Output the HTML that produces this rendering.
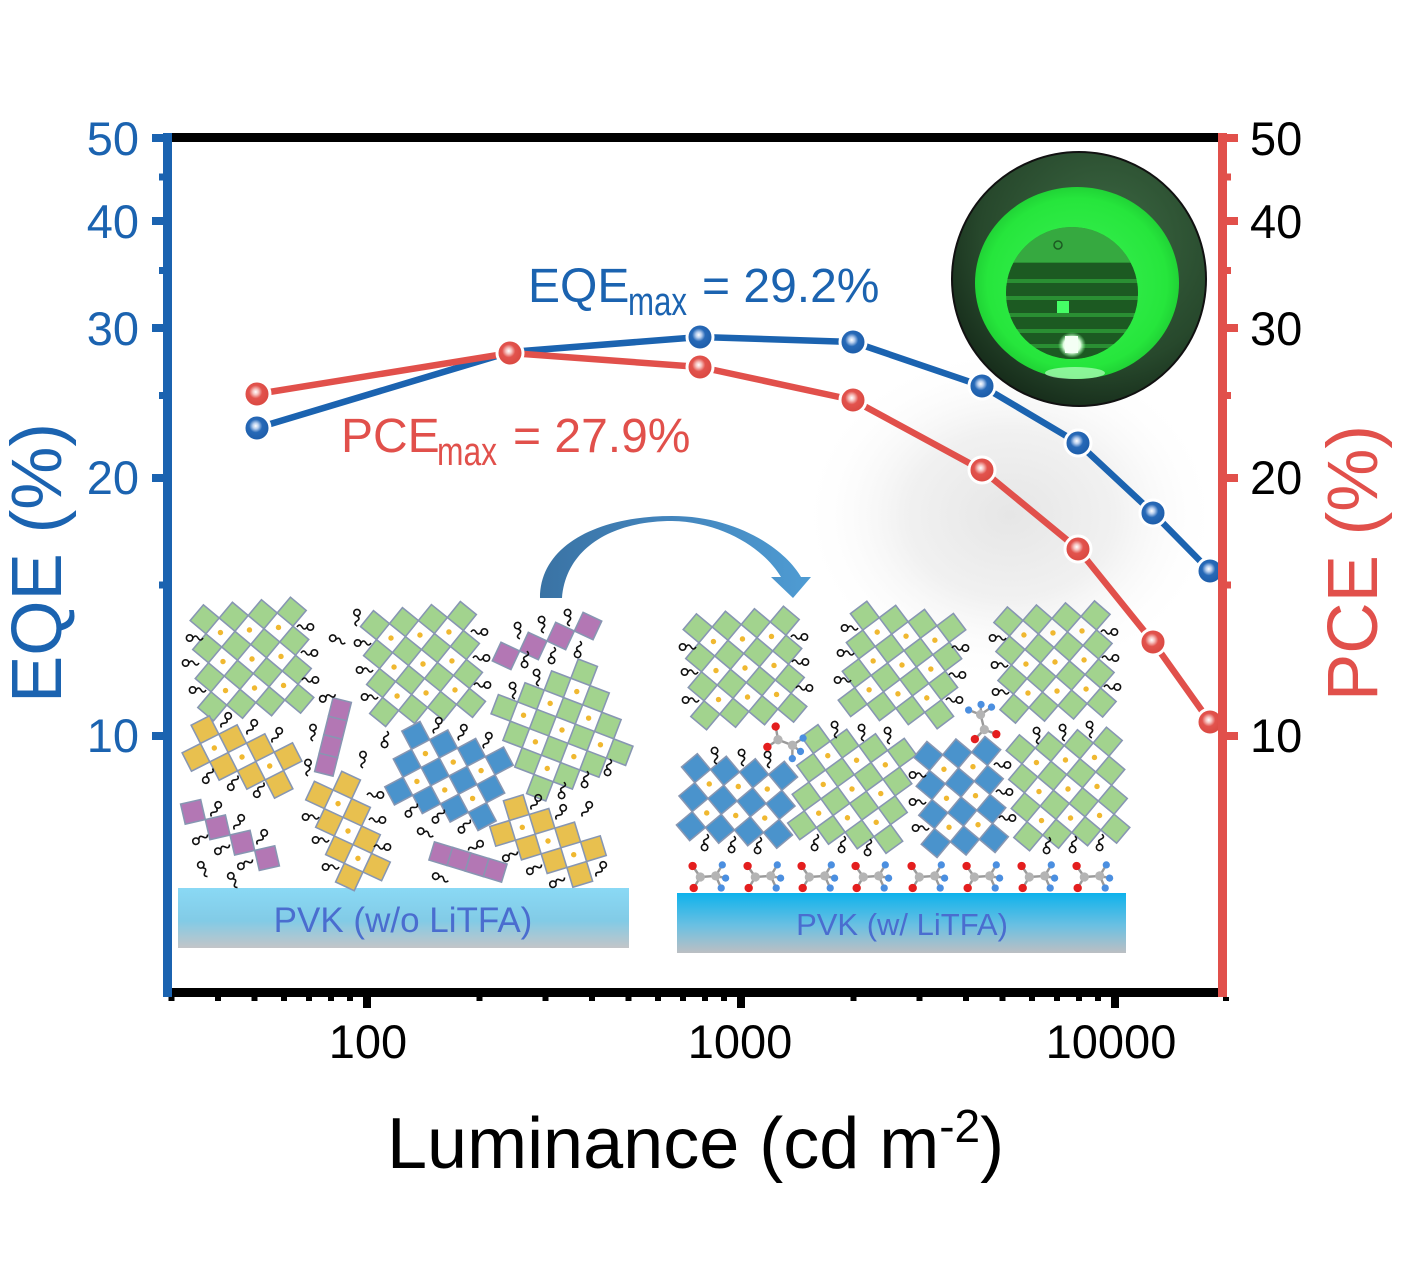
<!DOCTYPE html>
<html><head><meta charset="utf-8"><style>
html,body{margin:0;padding:0;background:#fff;}
svg{display:block;}
text{font-family:"Liberation Sans",Arial,sans-serif;}
</style></head><body>
<svg width="1408" height="1278" viewBox="0 0 1408 1278" xmlns="http://www.w3.org/2000/svg" xmlns:xlink="http://www.w3.org/1999/xlink">
<defs>
  <radialGradient id="mb" cx="0.45" cy="0.42" r="0.6">
    <stop offset="0" stop-color="#ffffff"/><stop offset="0.18" stop-color="#b9cfee"/><stop offset="0.42" stop-color="#2769b7"/><stop offset="1" stop-color="#1a5aa6"/>
  </radialGradient>
  <radialGradient id="mr" cx="0.45" cy="0.42" r="0.6">
    <stop offset="0" stop-color="#ffffff"/><stop offset="0.18" stop-color="#f6c4c1"/><stop offset="0.42" stop-color="#e2534d"/><stop offset="1" stop-color="#d8463f"/>
  </radialGradient>
  <radialGradient id="haze" cx="0.5" cy="0.5" r="0.5">
    <stop offset="0" stop-color="#e6e6e6"/><stop offset="0.5" stop-color="#f1f1f1"/><stop offset="1" stop-color="#ffffff" stop-opacity="0"/>
  </radialGradient>
  <radialGradient id="outer" cx="0.6" cy="0.35" r="0.7">
    <stop offset="0" stop-color="#3d6a44"/><stop offset="0.7" stop-color="#27482c"/><stop offset="1" stop-color="#152a19"/>
  </radialGradient>
  <radialGradient id="grn" cx="0.5" cy="0.5" r="0.55">
    <stop offset="0" stop-color="#3cf055"/><stop offset="0.8" stop-color="#26e63c"/><stop offset="1" stop-color="#1cc431"/>
  </radialGradient>
  <radialGradient id="spot" cx="0.5" cy="0.5" r="0.5">
    <stop offset="0" stop-color="#ffffff"/><stop offset="0.6" stop-color="#e8ffe8"/><stop offset="1" stop-color="#7dff8c" stop-opacity="0"/>
  </radialGradient>
  <linearGradient id="arr" x1="0" y1="0" x2="1" y2="0">
    <stop offset="0" stop-color="#3a73a4"/><stop offset="0.45" stop-color="#4283bb"/><stop offset="1" stop-color="#4f9cd3"/>
  </linearGradient>
  <linearGradient id="pvk1" x1="0" y1="0" x2="0" y2="1">
    <stop offset="0" stop-color="#8ad9f5"/><stop offset="0.55" stop-color="#82cbe6"/><stop offset="1" stop-color="#c3c5c8"/>
  </linearGradient>
  <linearGradient id="pvk2" x1="0" y1="0" x2="0" y2="1">
    <stop offset="0" stop-color="#0eb2ec"/><stop offset="0.55" stop-color="#6cc0e2"/><stop offset="1" stop-color="#bcbfc3"/>
  </linearGradient>
  <clipPath id="disc"><circle cx="1072" cy="293" r="66"/></clipPath>

  <polygon id="dm" points="0,-14 14,0 0,14 -14,0" stroke="#8796b2" stroke-width="1.5"/>
  <circle id="dt" r="2.6" fill="#f0b830"/>
  <g id="c44">
    <use xlink:href="#dm" x="-42" y="-42"/><use xlink:href="#dm" x="-14" y="-42"/><use xlink:href="#dm" x="14" y="-42"/><use xlink:href="#dm" x="42" y="-42"/>
    <use xlink:href="#dm" x="-42" y="-14"/><use xlink:href="#dm" x="-14" y="-14"/><use xlink:href="#dm" x="14" y="-14"/><use xlink:href="#dm" x="42" y="-14"/>
    <use xlink:href="#dm" x="-42" y="14"/><use xlink:href="#dm" x="-14" y="14"/><use xlink:href="#dm" x="14" y="14"/><use xlink:href="#dm" x="42" y="14"/>
    <use xlink:href="#dm" x="-42" y="42"/><use xlink:href="#dm" x="-14" y="42"/><use xlink:href="#dm" x="14" y="42"/><use xlink:href="#dm" x="42" y="42"/>
    <use xlink:href="#dt" x="-28" y="-28"/><use xlink:href="#dt" x="0" y="-28"/><use xlink:href="#dt" x="28" y="-28"/>
    <use xlink:href="#dt" x="-28" y="0"/><use xlink:href="#dt" x="0" y="0"/><use xlink:href="#dt" x="28" y="0"/>
    <use xlink:href="#dt" x="-28" y="28"/><use xlink:href="#dt" x="0" y="28"/><use xlink:href="#dt" x="28" y="28"/>
  </g>
  <g id="c43">
    <use xlink:href="#dm" x="-42" y="-28"/><use xlink:href="#dm" x="-14" y="-28"/><use xlink:href="#dm" x="14" y="-28"/><use xlink:href="#dm" x="42" y="-28"/>
    <use xlink:href="#dm" x="-42" y="0"/><use xlink:href="#dm" x="-14" y="0"/><use xlink:href="#dm" x="14" y="0"/><use xlink:href="#dm" x="42" y="0"/>
    <use xlink:href="#dm" x="-42" y="28"/><use xlink:href="#dm" x="-14" y="28"/><use xlink:href="#dm" x="14" y="28"/><use xlink:href="#dm" x="42" y="28"/>
    <use xlink:href="#dt" x="-28" y="-14"/><use xlink:href="#dt" x="0" y="-14"/><use xlink:href="#dt" x="28" y="-14"/>
    <use xlink:href="#dt" x="-28" y="14"/><use xlink:href="#dt" x="0" y="14"/><use xlink:href="#dt" x="28" y="14"/>
  </g>
  <g id="c42">
    <use xlink:href="#dm" x="-42" y="-14"/><use xlink:href="#dm" x="-14" y="-14"/><use xlink:href="#dm" x="14" y="-14"/><use xlink:href="#dm" x="42" y="-14"/>
    <use xlink:href="#dm" x="-42" y="14"/><use xlink:href="#dm" x="-14" y="14"/><use xlink:href="#dm" x="14" y="14"/><use xlink:href="#dm" x="42" y="14"/>
    <use xlink:href="#dt" x="-28" y="0"/><use xlink:href="#dt" x="0" y="0"/><use xlink:href="#dt" x="28" y="0"/>
  </g>
  <g id="c41">
    <use xlink:href="#dm" x="-42" y="0"/><use xlink:href="#dm" x="-14" y="0"/><use xlink:href="#dm" x="14" y="0"/><use xlink:href="#dm" x="42" y="0"/>
  </g>
  <g id="bar" stroke="#8796b2" stroke-width="1.5">
    <rect x="-38" y="-9.5" width="19" height="19"/><rect x="-19" y="-9.5" width="19" height="19"/><rect x="0" y="-9.5" width="19" height="19"/><rect x="19" y="-9.5" width="19" height="19"/>
  </g>
  <g id="lg" fill="none" stroke="#111" stroke-width="1.6">
    <path d="M-11,0 q2.5,-4 5,0 t5,0"/><circle cx="2.4" cy="0" r="3.2"/>
  </g>
  <g id="tfa">
    <g stroke="#9a9a9a" stroke-width="2.2">
      <line x1="-7" y1="0" x2="-14" y2="-10"/><line x1="-7" y1="0" x2="-13" y2="10"/><line x1="-7" y1="0" x2="7" y2="-1"/>
      <line x1="7" y1="-1" x2="13" y2="-11"/><line x1="7" y1="-1" x2="16" y2="1"/><line x1="7" y1="-1" x2="12" y2="10"/>
    </g>
    <circle cx="-14" cy="-10" r="3.8" fill="#e41e1e"/><circle cx="-13" cy="10" r="3.8" fill="#e41e1e"/>
    <circle cx="-7" cy="0" r="4.2" fill="#b4b4b4"/><circle cx="7" cy="-1" r="4.2" fill="#b4b4b4"/>
    <circle cx="13" cy="-11" r="3.3" fill="#4b8fe0"/><circle cx="16" cy="1" r="3.3" fill="#4b8fe0"/><circle cx="12" cy="10" r="3.3" fill="#4b8fe0"/>
  </g>
</defs>

<rect x="0" y="0" width="1408" height="1278" fill="#fff"/>

<!-- haze -->
<ellipse cx="1010" cy="515" rx="210" ry="170" fill="url(#haze)"/>

<!-- Left illustration -->
<rect x="178" y="888" width="451" height="60" fill="url(#pvk1)"/>
<text x="403" y="932" font-size="35" fill="#4a6dcf" text-anchor="middle">PVK (w/o LiTFA)</text>

<g fill="#a2d38e">
  <use xlink:href="#c44" transform="translate(252,659) rotate(-5) scale(1.04)"/>
  <use xlink:href="#c44" transform="translate(423,664) rotate(-6) scale(1.04)"/>
  <use xlink:href="#c44" transform="translate(562,730) rotate(-24) scale(1.04)"/>
</g>
<g fill="#b377b4">
  <use xlink:href="#c41" transform="translate(547,641) rotate(-20) scale(1.04)"/>
  <use xlink:href="#c41" transform="translate(230,835) rotate(32) scale(1.04)"/>
  <use xlink:href="#bar" transform="translate(333,737) rotate(104)"/>
  <use xlink:href="#bar" transform="translate(468,862) rotate(17)"/>
</g>
<g fill="#e8c04f">
  <use xlink:href="#c42" transform="translate(242,757) rotate(18) scale(1.04)"/>
  <use xlink:href="#c42" transform="translate(348,831) rotate(70) scale(1.04)"/>
  <use xlink:href="#c42" transform="translate(548,841) rotate(28) scale(1.04)"/>
</g>
<g fill="#4a93cc">
  <use xlink:href="#c43" transform="translate(449,776) rotate(17) scale(1.04)"/>
</g>

<!-- left ligands -->
<g>
  <use xlink:href="#lg" transform="translate(192,638) rotate(180)"/>
  <use xlink:href="#lg" transform="translate(308,627)"/>
  <use xlink:href="#lg" transform="translate(188,663) rotate(180)"/>
  <use xlink:href="#lg" transform="translate(312,653)"/>
  <use xlink:href="#lg" transform="translate(195,690) rotate(180)"/>
  <use xlink:href="#lg" transform="translate(313,680)"/>
  <use xlink:href="#lg" transform="translate(335,639) rotate(200)"/>
  <use xlink:href="#lg" transform="translate(357,615) rotate(-90)"/>
  <use xlink:href="#lg" transform="translate(360,643) rotate(180)"/>
  <use xlink:href="#lg" transform="translate(362,670) rotate(180)"/>
  <use xlink:href="#lg" transform="translate(367,697) rotate(180)"/>
  <use xlink:href="#lg" transform="translate(325,698) rotate(160)"/>
  <use xlink:href="#lg" transform="translate(482,632)"/>
  <use xlink:href="#lg" transform="translate(484,658)"/>
  <use xlink:href="#lg" transform="translate(485,685)"/>
  <use xlink:href="#lg" transform="translate(518,628) rotate(-100)"/>
  <use xlink:href="#lg" transform="translate(542,622) rotate(-100)"/>
  <use xlink:href="#lg" transform="translate(568,615) rotate(-100)"/>
  <use xlink:href="#lg" transform="translate(525,662) rotate(100)"/>
  <use xlink:href="#lg" transform="translate(552,658) rotate(100)"/>
  <use xlink:href="#lg" transform="translate(578,652) rotate(100)"/>
  <use xlink:href="#lg" transform="translate(537,675) rotate(-100)"/>
  <use xlink:href="#lg" transform="translate(513,688) rotate(-100)"/>
  <use xlink:href="#lg" transform="translate(227,718) rotate(-60)"/>
  <use xlink:href="#lg" transform="translate(253,725) rotate(-60)"/>
  <use xlink:href="#lg" transform="translate(278,733) rotate(-60)"/>
  <use xlink:href="#lg" transform="translate(313,730) rotate(-90)"/>
  <use xlink:href="#lg" transform="translate(308,765) rotate(-90)"/>
  <use xlink:href="#lg" transform="translate(363,757) rotate(-90)"/>
  <use xlink:href="#lg" transform="translate(385,742) rotate(100)"/>
  <use xlink:href="#lg" transform="translate(438,723) rotate(-70)"/>
  <use xlink:href="#lg" transform="translate(463,730) rotate(-70)"/>
  <use xlink:href="#lg" transform="translate(488,738) rotate(-70)"/>
  <use xlink:href="#lg" transform="translate(207,778) rotate(120)"/>
  <use xlink:href="#lg" transform="translate(232,785) rotate(120)"/>
  <use xlink:href="#lg" transform="translate(258,792) rotate(120)"/>
  <use xlink:href="#lg" transform="translate(608,770) rotate(100)"/>
  <use xlink:href="#lg" transform="translate(585,782) rotate(100)"/>
  <use xlink:href="#lg" transform="translate(562,793) rotate(100)"/>
  <use xlink:href="#lg" transform="translate(378,795)"/>
  <use xlink:href="#lg" transform="translate(380,820)"/>
  <use xlink:href="#lg" transform="translate(308,817) rotate(180)"/>
  <use xlink:href="#lg" transform="translate(318,840) rotate(180)"/>
  <use xlink:href="#lg" transform="translate(328,867) rotate(180)"/>
  <use xlink:href="#lg" transform="translate(385,847)"/>
  <use xlink:href="#lg" transform="translate(217,807) rotate(-60)"/>
  <use xlink:href="#lg" transform="translate(240,820) rotate(-60)"/>
  <use xlink:href="#lg" transform="translate(263,835) rotate(-60)"/>
  <use xlink:href="#lg" transform="translate(198,840) rotate(150)"/>
  <use xlink:href="#lg" transform="translate(220,850) rotate(150)"/>
  <use xlink:href="#lg" transform="translate(243,865) rotate(150)"/>
  <use xlink:href="#lg" transform="translate(202,867) rotate(-120)"/>
  <use xlink:href="#lg" transform="translate(232,878) rotate(-120)"/>
  <use xlink:href="#lg" transform="translate(410,812) rotate(130)"/>
  <use xlink:href="#lg" transform="translate(437,818) rotate(130)"/>
  <use xlink:href="#lg" transform="translate(463,828) rotate(130)"/>
  <use xlink:href="#lg" transform="translate(423,832) rotate(200)"/>
  <use xlink:href="#lg" transform="translate(478,845) rotate(-30)"/>
  <use xlink:href="#lg" transform="translate(438,877) rotate(200)"/>
  <use xlink:href="#lg" transform="translate(537,800) rotate(-60)"/>
  <use xlink:href="#lg" transform="translate(562,810) rotate(-60)"/>
  <use xlink:href="#lg" transform="translate(588,807) rotate(-60)"/>
  <use xlink:href="#lg" transform="translate(508,857) rotate(150)"/>
  <use xlink:href="#lg" transform="translate(532,870) rotate(150)"/>
  <use xlink:href="#lg" transform="translate(555,883) rotate(150)"/>
  <use xlink:href="#lg" transform="translate(602,867) rotate(-60)"/>
</g>

<!-- Arrow -->
<path d="M540,598 C540,545 598,516 672,516 C736,516 784,548 801,577 L811,577 L793,598 L771,577 L781,577 C765,550 724,522 672,521 C612,521 566,548 562,598 Z" fill="url(#arr)"/>

<!-- Right illustration -->
<rect x="677" y="893" width="449" height="60" fill="url(#pvk2)"/>
<text x="902" y="935" font-size="31" fill="#4a6dcf" text-anchor="middle">PVK (w/ LiTFA)</text>

<g fill="#a2d38e">
  <use xlink:href="#c44" transform="translate(745,668) rotate(-5) scale(1.04)"/>
  <use xlink:href="#c44" transform="translate(902,665) rotate(8) scale(1.04)"/>
  <use xlink:href="#c44" transform="translate(1055,662) rotate(-4) scale(1.04)"/>
  <use xlink:href="#c44" transform="translate(852,789) rotate(9) scale(1.04)"/>
  <use xlink:href="#c44" transform="translate(1068,789) rotate(-5) scale(1.04)"/>
</g>
<g fill="#4a93cc">
  <use xlink:href="#c43" transform="translate(737,801) rotate(5) scale(1.04)"/>
  <use xlink:href="#c43" transform="translate(961,797) rotate(85) scale(1.04)"/>
</g>

<g>
  <use xlink:href="#lg" transform="translate(685,647) rotate(180)"/>
  <use xlink:href="#lg" transform="translate(687,672) rotate(180)"/>
  <use xlink:href="#lg" transform="translate(688,700) rotate(180)"/>
  <use xlink:href="#lg" transform="translate(802,637)"/>
  <use xlink:href="#lg" transform="translate(803,662)"/>
  <use xlink:href="#lg" transform="translate(807,688)"/>
  <use xlink:href="#lg" transform="translate(847,628) rotate(180)"/>
  <use xlink:href="#lg" transform="translate(843,653) rotate(180)"/>
  <use xlink:href="#lg" transform="translate(840,680) rotate(180)"/>
  <use xlink:href="#lg" transform="translate(963,648)"/>
  <use xlink:href="#lg" transform="translate(960,675)"/>
  <use xlink:href="#lg" transform="translate(957,700)"/>
  <use xlink:href="#lg" transform="translate(995,638) rotate(180)"/>
  <use xlink:href="#lg" transform="translate(997,665) rotate(180)"/>
  <use xlink:href="#lg" transform="translate(998,692) rotate(180)"/>
  <use xlink:href="#lg" transform="translate(1112,632)"/>
  <use xlink:href="#lg" transform="translate(1113,658)"/>
  <use xlink:href="#lg" transform="translate(1115,687)"/>
  <use xlink:href="#lg" transform="translate(715,753) rotate(-100)"/>
  <use xlink:href="#lg" transform="translate(742,755) rotate(-100)"/>
  <use xlink:href="#lg" transform="translate(768,757) rotate(-100)"/>
  <use xlink:href="#lg" transform="translate(835,727) rotate(-100)"/>
  <use xlink:href="#lg" transform="translate(862,730) rotate(-100)"/>
  <use xlink:href="#lg" transform="translate(888,733) rotate(-100)"/>
  <use xlink:href="#lg" transform="translate(1037,733) rotate(-100)"/>
  <use xlink:href="#lg" transform="translate(1063,730) rotate(-100)"/>
  <use xlink:href="#lg" transform="translate(1090,727) rotate(-100)"/>
  <use xlink:href="#lg" transform="translate(915,775) rotate(180)"/>
  <use xlink:href="#lg" transform="translate(915,802) rotate(180)"/>
  <use xlink:href="#lg" transform="translate(918,828) rotate(180)"/>
  <use xlink:href="#lg" transform="translate(1005,765)"/>
  <use xlink:href="#lg" transform="translate(1007,792)"/>
  <use xlink:href="#lg" transform="translate(1010,818)"/>
  <use xlink:href="#lg" transform="translate(705,845) rotate(100)"/>
  <use xlink:href="#lg" transform="translate(732,847) rotate(100)"/>
  <use xlink:href="#lg" transform="translate(758,848) rotate(100)"/>
  <use xlink:href="#lg" transform="translate(815,845) rotate(100)"/>
  <use xlink:href="#lg" transform="translate(842,847) rotate(100)"/>
  <use xlink:href="#lg" transform="translate(868,850) rotate(100)"/>
  <use xlink:href="#lg" transform="translate(1047,848) rotate(100)"/>
  <use xlink:href="#lg" transform="translate(1073,847) rotate(100)"/>
  <use xlink:href="#lg" transform="translate(1100,845) rotate(100)"/>
</g>

<!-- TFA molecules -->
<g>
  <use xlink:href="#tfa" transform="translate(708,877) scale(1.1)"/><use xlink:href="#tfa" transform="translate(763,877) scale(1.1)"/>
  <use xlink:href="#tfa" transform="translate(817,877) scale(1.1)"/><use xlink:href="#tfa" transform="translate(871,877) scale(1.1)"/>
  <use xlink:href="#tfa" transform="translate(927,877) scale(1.1)"/><use xlink:href="#tfa" transform="translate(982,877) scale(1.1)"/>
  <use xlink:href="#tfa" transform="translate(1037,877) scale(1.1)"/><use xlink:href="#tfa" transform="translate(1092,877) scale(1.1)"/>
  <use xlink:href="#tfa" transform="translate(785,743) rotate(25) scale(1.1)"/>
  <use xlink:href="#tfa" transform="translate(983,722) rotate(-100) scale(1.1)"/>
</g>

<!-- Device photo -->
<circle cx="1079" cy="279" r="127" fill="url(#outer)" stroke="#111" stroke-width="2"/>
<ellipse cx="1077" cy="283" rx="102" ry="96" fill="url(#grn)"/>
<g clip-path="url(#disc)">
  <rect x="1000" y="220" width="150" height="150" fill="#2a8f33"/>
  <rect x="1000" y="226" width="150" height="36" fill="#36a940"/>
  <rect x="1000" y="263" width="150" height="16" fill="#1c5a22"/>
  <rect x="1000" y="283" width="150" height="13" fill="#1c5a22"/>
  <rect x="1000" y="300" width="150" height="13" fill="#1c5a22"/>
  <rect x="1000" y="317" width="150" height="12" fill="#1c5a22"/>
  <rect x="1000" y="333" width="150" height="11" fill="#1c5a22"/>
  <rect x="1000" y="348" width="150" height="12" fill="#1c5a22"/>
</g>
<circle cx="1058" cy="245" r="4" fill="none" stroke="#1c5a22" stroke-width="1.5"/>
<rect x="1057" y="301" width="12" height="12" fill="#45ff66"/>
<ellipse cx="1072" cy="345" rx="14" ry="13" fill="url(#spot)"/>
<rect x="1065" y="336" width="13" height="17" fill="#f4fff4"/>
<ellipse cx="1075" cy="373" rx="30" ry="6" fill="#b6ffc0" opacity="0.7"/>

<!-- Series -->
<g fill="none" stroke-linejoin="round" stroke-linecap="round">
  <polyline points="257,428 510,352 700,337 853,342 982,386 1078,443 1153,513 1210,571" stroke="#1b63b0" stroke-width="6.5"/>
</g>
<g stroke="#fff" stroke-width="3">
  <circle cx="257" cy="428" r="13" fill="url(#mb)"/>
  <circle cx="700" cy="337" r="13" fill="url(#mb)"/>
  <circle cx="853" cy="342" r="13" fill="url(#mb)"/>
  <circle cx="982" cy="386" r="13" fill="url(#mb)"/>
  <circle cx="1078" cy="443" r="13" fill="url(#mb)"/>
  <circle cx="1153" cy="513" r="13" fill="url(#mb)"/>
  <circle cx="1210" cy="571" r="13" fill="url(#mb)"/>
</g>
<g fill="none" stroke-linejoin="round" stroke-linecap="round">
  <polyline points="257,394 510,353 700,367 853,400 982,470 1078,549 1153,642 1210,722" stroke="#e1504b" stroke-width="6.5"/>
</g>
<g stroke="#fff" stroke-width="3">
  <circle cx="257" cy="394" r="13" fill="url(#mr)"/>
  <circle cx="510" cy="353" r="13" fill="url(#mr)"/>
  <circle cx="700" cy="367" r="13" fill="url(#mr)"/>
  <circle cx="853" cy="400" r="13" fill="url(#mr)"/>
  <circle cx="982" cy="470" r="13" fill="url(#mr)"/>
  <circle cx="1078" cy="549" r="13" fill="url(#mr)"/>
  <circle cx="1153" cy="642" r="13" fill="url(#mr)"/>
  <circle cx="1210" cy="722" r="13" fill="url(#mr)"/>
</g>

<!-- Annotations -->
<text x="528" y="302" font-size="48" fill="#1b63b0">EQE</text>
<text x="628" y="315" font-size="40" fill="#1b63b0" textLength="59" lengthAdjust="spacingAndGlyphs">max</text>
<text x="702" y="302" font-size="48" fill="#1b63b0">= 29.2%</text>
<text x="341" y="452" font-size="48" fill="#e1504b">PCE</text>
<text x="437" y="465" font-size="40" fill="#e1504b" textLength="60" lengthAdjust="spacingAndGlyphs">max</text>
<text x="513" y="452" font-size="48" fill="#e1504b">= 27.9%</text>

<!-- Axes -->
<rect x="163" y="133" width="1064" height="9" fill="#000"/>
<rect x="163" y="988" width="1064" height="9" fill="#000"/>
<g fill="#000">
  <rect x="363" y="997" width="8" height="11"/><rect x="737" y="997" width="8" height="11"/><rect x="1111" y="997" width="8" height="11"/>
  <rect x="168.5" y="997" width="6" height="4"/><rect x="215" y="997" width="6" height="4"/><rect x="251.5" y="997" width="6" height="4"/>
  <rect x="281" y="997" width="6" height="4"/><rect x="306" y="997" width="6" height="4"/><rect x="328" y="997" width="6" height="4"/><rect x="347" y="997" width="6" height="4"/>
  <rect x="476.5" y="997" width="6" height="4"/><rect x="542.5" y="997" width="6" height="4"/><rect x="589" y="997" width="6" height="4"/>
  <rect x="625.5" y="997" width="6" height="4"/><rect x="655" y="997" width="6" height="4"/><rect x="680" y="997" width="6" height="4"/><rect x="702" y="997" width="6" height="4"/><rect x="721" y="997" width="6" height="4"/>
  <rect x="850.5" y="997" width="6" height="4"/><rect x="916.5" y="997" width="6" height="4"/><rect x="963" y="997" width="6" height="4"/>
  <rect x="999.5" y="997" width="6" height="4"/><rect x="1029" y="997" width="6" height="4"/><rect x="1054" y="997" width="6" height="4"/><rect x="1076" y="997" width="6" height="4"/><rect x="1095" y="997" width="6" height="4"/>
  <rect x="1223" y="997" width="6" height="4"/>
</g>
<!-- Left axis -->
<g fill="#1b63b0">
  <rect x="163" y="133" width="9" height="864"/>
  <rect x="152" y="134" width="12" height="8"/><rect x="152" y="217" width="12" height="8"/><rect x="152" y="324" width="12" height="8"/>
  <rect x="152" y="474" width="12" height="8"/><rect x="152" y="732" width="12" height="8"/>
  <rect x="159" y="173.5" width="5" height="7"/><rect x="159" y="267" width="5" height="7"/><rect x="159" y="392" width="5" height="7"/><rect x="159" y="581.5" width="5" height="7"/>
</g>
<!-- Right axis -->
<g fill="#e1504b">
  <rect x="1218" y="133" width="9" height="864"/>
  <rect x="1226" y="134" width="12" height="8"/><rect x="1226" y="217" width="12" height="8"/><rect x="1226" y="324" width="12" height="8"/>
  <rect x="1226" y="474" width="12" height="8"/><rect x="1226" y="732" width="12" height="8"/>
  <rect x="1226" y="173.5" width="5" height="7"/><rect x="1226" y="267" width="5" height="7"/><rect x="1226" y="392" width="5" height="7"/><rect x="1226" y="581.5" width="5" height="7"/>
</g>

<!-- Tick labels -->
<g font-size="47" fill="#1b63b0" text-anchor="end">
  <text x="139" y="155">50</text><text x="139" y="238">40</text><text x="139" y="345">30</text>
  <text x="139" y="494">20</text><text x="139" y="752">10</text>
</g>
<g font-size="47" fill="#000" text-anchor="start">
  <text x="1250" y="155">50</text><text x="1250" y="238">40</text><text x="1250" y="345">30</text>
  <text x="1250" y="494">20</text><text x="1250" y="752">10</text>
</g>
<g font-size="47" fill="#000" text-anchor="middle">
  <text x="368" y="1058">100</text><text x="740" y="1058">1000</text><text x="1111" y="1058">10000</text>
</g>

<!-- Axis titles -->
<text transform="translate(61,563) rotate(-90)" font-size="71" fill="#1b63b0" text-anchor="middle">EQE (%)</text>
<text transform="translate(1377,563) rotate(-90)" font-size="71" fill="#e1504b" text-anchor="middle">PCE (%)</text>
<text x="387" y="1168" font-size="72" fill="#000">Luminance (cd m<tspan font-size="46" dy="-26">-2</tspan><tspan dy="26">)</tspan></text>
</svg>
</body></html>
